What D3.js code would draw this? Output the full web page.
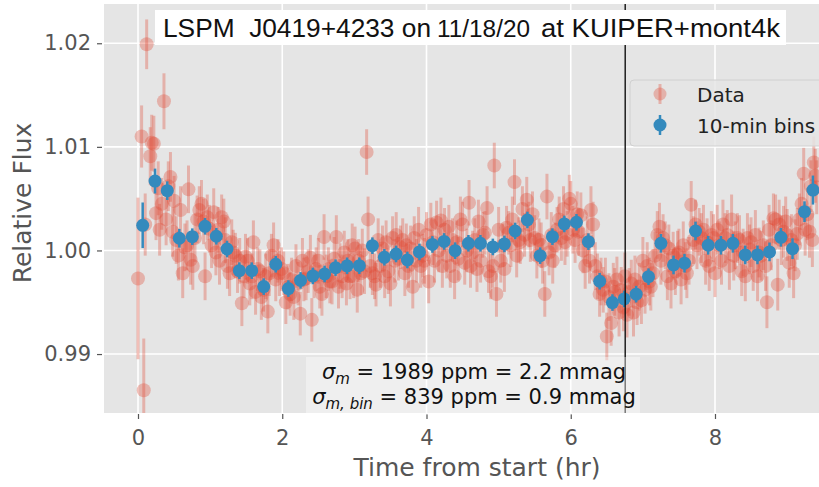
<!DOCTYPE html>
<html><head><meta charset="utf-8">
<script src="https://cdn.jsdelivr.net/npm/d3@7"></script>
<style>body{margin:0;background:#fff} svg{display:block} text{white-space:pre}</style>
</head><body>
<svg id="chart" width="819" height="487"></svg>
<script>
// ---------------- DATA ----------------
// 10-minute bins
const binTime = [0.065,0.236,0.406,0.573,0.753,0.929,1.086,1.234,1.405,1.577,1.743,1.910,2.085,2.254,2.424,2.587,2.739,2.899,3.069,3.250,3.416,3.578,3.735,3.902,4.082,4.244,4.397,4.581,4.748,4.920,5.080,5.229,5.399,5.576,5.746,5.911,6.079,6.245,6.401,6.578,6.741,6.907,7.078,7.250,7.425,7.577,7.730,7.906,8.082,8.248,8.419,8.589,8.756,8.914,9.075,9.241,9.358];
const binFlux = [1.00243,1.00670,1.00577,1.00118,1.00133,1.00233,1.00137,1.00014,0.99805,0.99805,0.99651,0.99867,0.99632,0.99711,0.99754,0.99773,0.99834,0.99852,0.99853,1.00046,0.99934,0.99966,0.99908,0.99986,1.00058,1.00087,0.99998,1.00069,1.00069,1.00034,1.00063,1.00188,1.00294,0.99950,1.00133,1.00256,1.00272,1.00085,0.99703,0.99497,0.99532,0.99578,0.99747,1.00069,0.99860,0.99877,1.00188,1.00050,1.00050,1.00069,0.99957,0.99957,0.99986,1.00127,1.00017,1.00374,1.00583];
const binErr = [0.0022,0.0012,0.0009,0.0009,0.0008,0.0008,0.0008,0.0008,0.0008,0.0008,0.0008,0.0008,0.0008,0.0008,0.0008,0.0008,0.0008,0.0008,0.0008,0.0008,0.0008,0.0008,0.0008,0.0008,0.0008,0.0008,0.0008,0.0008,0.0008,0.0008,0.0008,0.0008,0.0008,0.0008,0.0008,0.0008,0.0008,0.0008,0.0008,0.0008,0.0008,0.0008,0.0008,0.0009,0.0009,0.0009,0.0009,0.0009,0.0009,0.0009,0.0009,0.0009,0.0009,0.0009,0.0010,0.0010,0.0014];

// individual measurements (one row per bin)
const dataTime = [
[0.00,0.05,0.08,0.10,0.12],
[0.17,0.19,0.22,0.25,0.28,0.30],
[0.33,0.36,0.39,0.42,0.45,0.48],
[0.50,0.53,0.56,0.59,0.62,0.65],
[0.68,0.70,0.73,0.76,0.79,0.82],
[0.85,0.88,0.91,0.93,0.96,0.99],
[1.02,1.05,1.08,1.11,1.13,1.16],
[1.19,1.21,1.24,1.27,1.30,1.32],
[1.35,1.38,1.41,1.44,1.47,1.49],
[1.52,1.55,1.58,1.60,1.63,1.66],
[1.69,1.71,1.74,1.77,1.80,1.82],
[1.85,1.88,1.91,1.94,1.96,1.99],
[2.02,2.05,2.08,2.11,2.13,2.16],
[2.19,2.22,2.25,2.28,2.30,2.33],
[2.36,2.39,2.41,2.44,2.47,2.50],
[2.52,2.55,2.58,2.61,2.64,2.66],
[2.69,2.72,2.75,2.78,2.80,2.83],
[2.86,2.89,2.91,2.94,2.97,2.99],
[3.01,3.04,3.06,3.09,3.11,3.14],
[3.17,3.19,3.22,3.25,3.28,3.30],
[3.33,3.36,3.39,3.42,3.44,3.47],
[3.50,3.53,3.56,3.58,3.61,3.64],
[3.67,3.70,3.72,3.75,3.78,3.81],
[3.83,3.86,3.89,3.92,3.95,3.97],
[4.00,4.03,4.06,4.09,4.11,4.14],
[4.17,4.20,4.22,4.25,4.28,4.31],
[4.33,4.36,4.39,4.42,4.44,4.47],
[4.50,4.53,4.56,4.59,4.61,4.64],
[4.67,4.70,4.72,4.75,4.78,4.81],
[4.84,4.86,4.89,4.92,4.94,4.97],
[5.00,5.03,5.06,5.08,5.11,5.14],
[5.17,5.19,5.22,5.25,5.28,5.30],
[5.33,5.36,5.39,5.42,5.44,5.47],
[5.50,5.53,5.56,5.59,5.61,5.64],
[5.67,5.70,5.73,5.75,5.78,5.81],
[5.84,5.87,5.90,5.92,5.95,5.98],
[6.00,6.03,6.06,6.09,6.11,6.14],
[6.17,6.20,6.23,6.26,6.28,6.31],
[6.34,6.37,6.40,6.42,6.45,6.48],
[6.50,6.53,6.56,6.59,6.61,6.64],
[6.67,6.70,6.73,6.75,6.78,6.81],
[6.84,6.87,6.89,6.92,6.95,6.98],
[7.00,7.03,7.06,7.09,7.11,7.14],
[7.17,7.20,7.23,7.25,7.28,7.31],
[7.34,7.36,7.39,7.42,7.45,7.48],
[7.50,7.53,7.56,7.59,7.61,7.64],
[7.67,7.70,7.73,7.75,7.78,7.81],
[7.84,7.87,7.89,7.92,7.95,7.98],
[8.00,8.03,8.06,8.09,8.11,8.14],
[8.17,8.20,8.23,8.26,8.28,8.31],
[8.34,8.37,8.39,8.42,8.45,8.48],
[8.50,8.53,8.56,8.59,8.61,8.64],
[8.67,8.70,8.72,8.75,8.78,8.81],
[8.84,8.87,8.89,8.92,8.95,8.98],
[9.00,9.03,9.06,9.09,9.11,9.14],
[9.17,9.20,9.23,9.25,9.28,9.31],
[9.33,9.35,9.37,9.39,9.41]
];
const dataFlux = [
[0.9973,1.0110,0.9865,1.0025,1.0199],
[1.0091,1.0104,1.0103,1.0036,1.0060,1.0020],
[1.0045,1.0144,1.0030,1.0062,1.0071,1.0018],
[1.0048,1.0010,0.9995,1.0039,0.9978,1.0003],
[1.0005,1.0059,0.9991,0.9985,1.0012,1.0030],
[1.0039,1.0045,1.0028,0.9975,1.0032,1.0021],
[1.0005,1.0037,0.9998,1.0020,0.9990,1.0032],
[1.0028,1.0010,0.9985,0.9978,1.0008,0.9998],
[0.9995,0.9980,0.9990,0.9949,0.9975,0.9994],
[0.9990,0.9968,0.9975,1.0008,0.9960,0.9982],
[0.9980,0.9955,0.9962,0.9975,0.9941,0.9978],
[0.9995,1.0005,0.9972,0.9990,0.9978,0.9982],
[0.9978,0.9950,0.9965,0.9958,0.9972,0.9955],
[0.9985,0.9968,0.9939,0.9990,0.9972,0.9973],
[0.9980,0.9993,0.9933,0.9975,0.9982,0.9990],
[0.9965,0.9958,1.0013,0.9975,0.9982,0.9970],
[0.9970,0.9992,1.0013,0.9965,0.9985,0.9975],
[0.9998,0.9968,0.9990,0.9975,1.0005,0.9975],
[1.0002,0.9962,0.9990,0.9978,1.0000,0.9980],
[1.0095,1.0030,0.9985,0.9978,0.9975,0.9967],
[1.0010,0.9985,1.0002,0.9975,1.0008,0.9980],
[0.9968,1.0012,0.9990,1.0015,0.9992,1.0003],
[1.0010,0.9978,1.0005,0.9985,1.0002,0.9965],
[1.0012,0.9990,1.0020,0.9985,0.9995,0.9990],
[1.0015,0.9970,1.0025,1.0008,0.9990,1.0027],
[1.0000,1.0029,0.9985,1.0020,0.9995,1.0023],
[0.9985,1.0010,0.9975,1.0008,0.9992,1.0030],
[1.0025,0.9988,1.0000,1.0046,0.9985,0.9998],
[1.0010,0.9982,1.0028,0.9990,1.0015,1.0017],
[1.0041,0.9980,0.9975,0.9985,1.0082,0.9958],
[1.0020,0.9990,1.0005,0.9982,1.0022,1.0017],
[1.0005,1.0030,1.0066,0.9995,1.0010,1.0008],
[1.0040,1.0015,1.0049,1.0025,1.0010,1.0035],
[1.0012,0.9995,1.0010,1.0005,0.9990,0.9958],
[1.0052,0.9998,1.0015,0.9990,1.0005,1.0020],
[1.0030,1.0012,1.0040,1.0008,1.0016,1.0050],
[1.0045,1.0020,1.0010,1.0035,1.0018,1.0034],
[1.0000,0.9985,1.0010,0.9990,1.0039,1.0025],
[0.9985,0.9975,0.9958,0.9970,0.9962,0.9970],
[0.9917,0.9955,0.9930,0.9965,0.9960,0.9972],
[0.9940,0.9962,0.9945,0.9975,0.9938,0.9960],
[0.9968,0.9940,0.9972,0.9950,0.9965,0.9952],
[0.9990,0.9962,0.9985,0.9970,0.9965,0.9978],
[0.9995,1.0015,1.0023,0.9990,1.0012,1.0005],
[0.9975,1.0002,0.9968,0.9995,0.9980,0.9996],
[0.9998,0.9972,1.0005,0.9985,0.9978,0.9990],
[1.0044,1.0010,1.0025,1.0005,1.0018,1.0012],
[1.0020,0.9990,1.0008,0.9985,1.0015,1.0012],
[0.9978,1.0020,1.0005,0.9990,1.0025,1.0012],
[1.0015,0.9985,1.0030,0.9995,1.0005,1.0012],
[1.0010,0.9980,0.9998,0.9975,1.0012,1.0001],
[1.0008,0.9985,1.0015,0.9975,0.9998,0.9995],
[1.0005,0.9985,0.9950,1.0020,1.0005,1.0031],
[1.0030,0.9967,1.0025,1.0010,1.0018,1.0028],
[1.0015,0.9988,1.0010,0.9978,1.0005,1.0016],
[1.0030,1.0045,1.0074,1.0020,1.0035,1.0018],
[1.0062,1.0010,1.0085,1.0072,1.0061]
];
const dataErr = [
[0.0078,0.0030,0.0050,0.0030,0.0024],
[0.0028,0.0027,0.0027,0.0026,0.0026,0.0025],
[0.0025,0.0027,0.0025,0.0024,0.0024,0.0024],
[0.0024,0.0023,0.0024,0.0023,0.0024,0.0023],
[0.0024,0.0023,0.0024,0.0023,0.0023,0.0023],
[0.0023,0.0023,0.0022,0.0023,0.0022,0.0023],
[0.0022,0.0023,0.0022,0.0022,0.0023,0.0022],
[0.0022,0.0022,0.0022,0.0022,0.0022,0.0022],
[0.0022,0.0021,0.0022,0.0022,0.0021,0.0022],
[0.0022,0.0021,0.0022,0.0021,0.0022,0.0021],
[0.0021,0.0022,0.0021,0.0022,0.0021,0.0022],
[0.0021,0.0022,0.0021,0.0021,0.0022,0.0021],
[0.0021,0.0021,0.0022,0.0021,0.0021,0.0022],
[0.0021,0.0021,0.0021,0.0022,0.0021,0.0021],
[0.0021,0.0022,0.0021,0.0021,0.0021,0.0022],
[0.0021,0.0021,0.0022,0.0021,0.0021,0.0021],
[0.0022,0.0021,0.0021,0.0021,0.0022,0.0021],
[0.0021,0.0021,0.0021,0.0022,0.0021,0.0021],
[0.0021,0.0022,0.0021,0.0021,0.0021,0.0022],
[0.0022,0.0022,0.0021,0.0021,0.0022,0.0021],
[0.0021,0.0021,0.0022,0.0021,0.0021,0.0022],
[0.0022,0.0021,0.0021,0.0022,0.0021,0.0021],
[0.0021,0.0022,0.0021,0.0021,0.0022,0.0021],
[0.0021,0.0021,0.0022,0.0021,0.0021,0.0022],
[0.0022,0.0021,0.0021,0.0022,0.0021,0.0021],
[0.0021,0.0022,0.0021,0.0021,0.0022,0.0021],
[0.0021,0.0021,0.0022,0.0021,0.0021,0.0022],
[0.0022,0.0021,0.0021,0.0022,0.0021,0.0021],
[0.0021,0.0022,0.0021,0.0021,0.0022,0.0021],
[0.0021,0.0021,0.0022,0.0021,0.0022,0.0022],
[0.0022,0.0021,0.0021,0.0022,0.0021,0.0021],
[0.0021,0.0022,0.0022,0.0021,0.0022,0.0021],
[0.0022,0.0021,0.0022,0.0022,0.0021,0.0022],
[0.0022,0.0022,0.0021,0.0022,0.0022,0.0022],
[0.0022,0.0022,0.0022,0.0022,0.0022,0.0022],
[0.0022,0.0022,0.0022,0.0022,0.0022,0.0023],
[0.0022,0.0023,0.0022,0.0022,0.0023,0.0022],
[0.0022,0.0022,0.0023,0.0022,0.0023,0.0022],
[0.0023,0.0022,0.0022,0.0023,0.0022,0.0023],
[0.0023,0.0023,0.0022,0.0023,0.0023,0.0022],
[0.0023,0.0022,0.0023,0.0023,0.0022,0.0023],
[0.0023,0.0023,0.0023,0.0022,0.0023,0.0023],
[0.0023,0.0023,0.0023,0.0023,0.0023,0.0023],
[0.0023,0.0023,0.0023,0.0023,0.0023,0.0023],
[0.0023,0.0023,0.0024,0.0023,0.0023,0.0023],
[0.0023,0.0024,0.0023,0.0023,0.0024,0.0023],
[0.0023,0.0023,0.0024,0.0023,0.0023,0.0024],
[0.0024,0.0023,0.0023,0.0024,0.0023,0.0023],
[0.0023,0.0024,0.0023,0.0023,0.0024,0.0024],
[0.0024,0.0023,0.0024,0.0024,0.0023,0.0024],
[0.0024,0.0024,0.0023,0.0024,0.0024,0.0024],
[0.0024,0.0024,0.0024,0.0024,0.0024,0.0024],
[0.0024,0.0024,0.0025,0.0024,0.0024,0.0024],
[0.0024,0.0025,0.0024,0.0024,0.0025,0.0024],
[0.0025,0.0024,0.0025,0.0024,0.0025,0.0025],
[0.0025,0.0025,0.0025,0.0025,0.0025,0.0025],
[0.0025,0.0026,0.0025,0.0026,0.0026]
];

const xTicks = [0, 2, 4, 6, 8];
const yTicks = [0.99, 1.00, 1.01, 1.02];
const xDomain = [-0.4714, 9.442];
const yDomain = [0.98431, 1.02379];
const markerTime = 6.755;   // vertical reference line
const titleParts = ["LSPM  J0419+4233 on", "11/18/20", "at KUIPER+mont4k"];
const statSubs = ["m", "m, bin"];
const statTexts = [" = 1989 ppm = 2.2 mmag", " = 839 ppm = 0.9 mmag"];
const legendLabels = ["Data", "10-min bins"];
const xLabel = "Time from start (hr)";
const yLabel = "Relative Flux";

// ---------------- DRAWING ----------------
const RED = "#E24A33", BLUE = "#348ABD", TXT = "#555555";
const svg = d3.select("#chart");
const P = {left: 104, right: 819, top: 4, bottom: 413};
const x = d3.scaleLinear().domain(xDomain).range([P.left, P.right]);
const y = d3.scaleLinear().domain(yDomain).range([P.bottom, P.top]);

svg.append("defs").append("clipPath").attr("id", "pc")
  .append("rect").attr("x", P.left).attr("y", P.top)
  .attr("width", P.right - P.left).attr("height", P.bottom - P.top);

svg.append("rect").attr("x", P.left).attr("y", P.top)
  .attr("width", P.right - P.left).attr("height", P.bottom - P.top)
  .attr("fill", "#E5E5E5");

// grid
const grid = svg.append("g").attr("clip-path", "url(#pc)");
grid.selectAll("line.gx").data(xTicks).join("line").attr("class", "gx")
  .attr("x1", d => x(d)).attr("x2", d => x(d)).attr("y1", P.top).attr("y2", P.bottom)
  .attr("stroke", "#fff").attr("stroke-width", 1.6);
grid.selectAll("line.gy").data(yTicks).join("line").attr("class", "gy")
  .attr("y1", d => y(d)).attr("y2", d => y(d)).attr("x1", P.left).attr("x2", P.right)
  .attr("stroke", "#fff").attr("stroke-width", 1.6);

// axes
const xAxis = svg.append("g").attr("transform", `translate(0,${P.bottom + 1})`)
  .call(d3.axisBottom(x).tickValues(xTicks).tickFormat(d3.format("d")).tickSize(5).tickPadding(11));
const yAxis = svg.append("g").attr("transform", `translate(${P.left - 2},0)`)
  .call(d3.axisLeft(y).tickValues(yTicks).tickFormat(d3.format(".2f")).tickSize(5).tickPadding(6));
[xAxis, yAxis].forEach(g => {
  g.select(".domain").remove();
  g.selectAll(".tick line").attr("stroke", TXT).attr("stroke-width", 1.2);
  g.selectAll(".tick text").attr("fill", TXT).attr("font-family", "DejaVu Sans").attr("font-size", 21);
});

// data
const pts = [];
dataTime.forEach((row, i) => row.forEach((t, j) => pts.push({t, v: dataFlux[i][j], e: dataErr[i][j]})));
const bins = binTime.map((t, i) => ({t, v: binFlux[i], e: binErr[i]}));

const dg = svg.append("g").attr("clip-path", "url(#pc)");
dg.selectAll("line.rb").data(pts).join("line").attr("class", "rb")
  .attr("x1", d => x(d.t)).attr("x2", d => x(d.t))
  .attr("y1", d => y(d.v - d.e)).attr("y2", d => y(d.v + d.e))
  .attr("stroke", RED).attr("stroke-opacity", 0.33).attr("stroke-width", 3);
dg.selectAll("circle.rc").data(pts).join("circle").attr("class", "rc")
  .attr("cx", d => x(d.t)).attr("cy", d => y(d.v)).attr("r", 7)
  .attr("fill", RED).attr("fill-opacity", 0.33);
dg.selectAll("line.bb").data(bins).join("line").attr("class", "bb")
  .attr("x1", d => x(d.t)).attr("x2", d => x(d.t))
  .attr("y1", d => y(d.v - d.e)).attr("y2", d => y(d.v + d.e))
  .attr("stroke", BLUE).attr("stroke-width", 2.5);
dg.selectAll("circle.bc").data(bins).join("circle").attr("class", "bc")
  .attr("cx", d => x(d.t)).attr("cy", d => y(d.v)).attr("r", 6.5)
  .attr("fill", BLUE);

// vertical reference line
svg.append("line").attr("x1", x(markerTime)).attr("x2", x(markerTime))
  .attr("y1", P.top).attr("y2", P.bottom).attr("stroke", "#111").attr("stroke-width", 1.4);

// legend
const lg = svg.append("g");
lg.append("rect").attr("x", 630).attr("y", 80).attr("width", 230).attr("height", 66).attr("rx", 4)
  .attr("fill", "#E5E5E5").attr("fill-opacity", 0.85).attr("stroke", "#d0d0d0").attr("stroke-width", 1);
legendLabels.forEach((lab, i) => {
  const cy = 94 + i * 31;
  const col = i === 0 ? RED : BLUE, op = i === 0 ? 0.33 : 1;
  lg.append("line").attr("x1", 660).attr("x2", 660).attr("y1", cy - 10).attr("y2", cy + 10)
    .attr("stroke", col).attr("stroke-opacity", op).attr("stroke-width", i === 0 ? 3 : 2.5);
  lg.append("circle").attr("cx", 660).attr("cy", cy).attr("r", 6.5).attr("fill", col).attr("fill-opacity", op);
  lg.append("text").attr("x", 697).attr("y", cy + 7.5).text(lab)
    .attr("font-family", "DejaVu Sans").attr("font-size", 20).attr("fill", "#222");
});

// title box
svg.append("rect").attr("x", 155).attr("y", 10).attr("width", 631).attr("height", 35).attr("fill", "#fff");
const tt = svg.append("text").attr("y", 37).attr("font-family", "Liberation Sans, Arial, sans-serif").attr("fill", "#111");
tt.append("tspan").attr("x", 163).attr("font-size", 26).attr("textLength", 268).attr("lengthAdjust", "spacingAndGlyphs").text(titleParts[0]);
tt.append("tspan").attr("x", 437).attr("font-size", 23).attr("textLength", 93).attr("lengthAdjust", "spacingAndGlyphs").text(titleParts[1]);
tt.append("tspan").attr("x", 541).attr("font-size", 26).attr("textLength", 239).attr("lengthAdjust", "spacingAndGlyphs").text(titleParts[2]);

// stats box
svg.append("rect").attr("x", 306).attr("y", 357).attr("width", 334).attr("height", 58)
  .attr("fill", "#fff").attr("fill-opacity", 0.4);
statSubs.forEach((sub, i) => {
  const t = svg.append("text").attr("x", 474).attr("y", 379 + i * 25).attr("text-anchor", "middle")
    .attr("font-family", "DejaVu Sans").attr("font-size", 21).attr("fill", "#111");
  t.append("tspan").attr("font-style", "italic").text("σ");
  t.append("tspan").attr("font-style", "italic").attr("font-size", 15).attr("dy", 5).text(sub);
  t.append("tspan").attr("dy", -5).text(statTexts[i]);
});

// axis labels
svg.append("text").attr("x", 477).attr("y", 476).attr("text-anchor", "middle")
  .attr("font-family", "DejaVu Sans").attr("font-size", 25).attr("fill", TXT).text(xLabel);
svg.append("text").attr("transform", "translate(31,203) rotate(-90)").attr("text-anchor", "middle")
  .attr("font-family", "DejaVu Sans").attr("font-size", 25).attr("fill", TXT).text(yLabel);
</script>
</body></html>
